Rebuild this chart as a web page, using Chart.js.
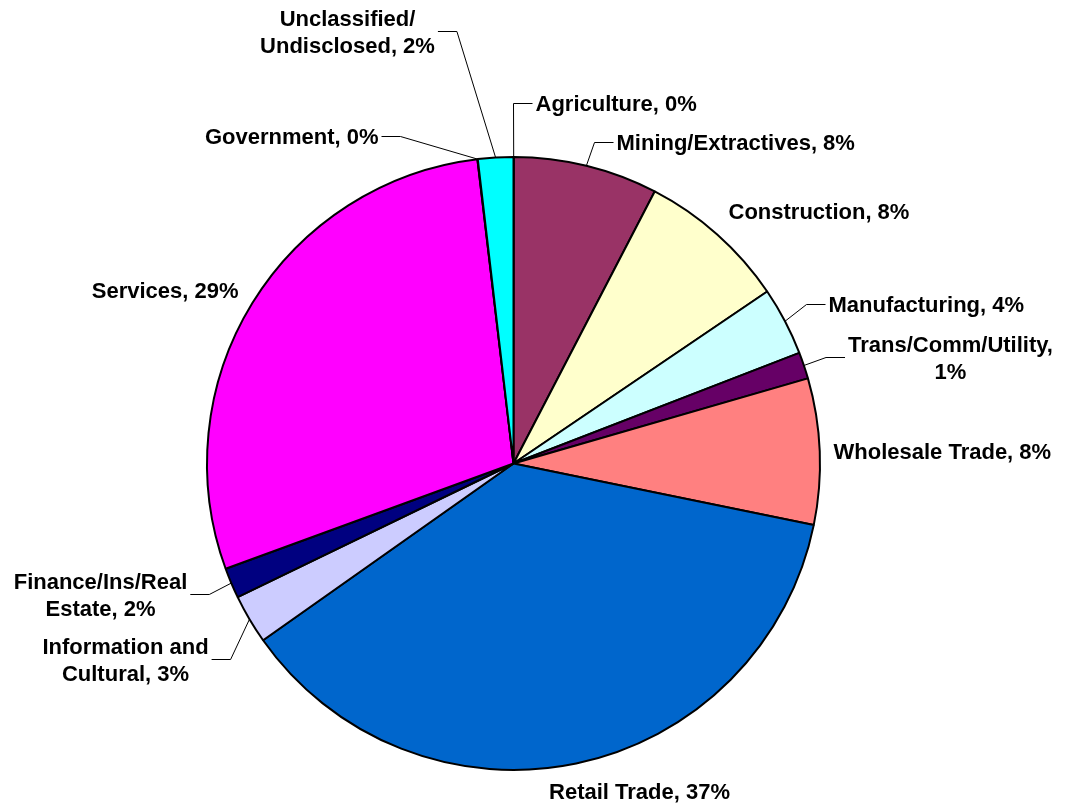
<!DOCTYPE html>
<html>
<head>
<meta charset="utf-8">
<script src="https://cdn.jsdelivr.net/npm/chart.js@4.4.1/dist/chart.umd.min.js"></script>
<style>
  html, body { margin: 0; padding: 0; background: #fff; }
</style>
</head>
<body>
<canvas id="grafico" width="1067" height="808"></canvas>
<script>
const sectores = ["Agriculture", "Mining/Extractives", "Construction", "Manufacturing", "Trans/Comm/Utility", "Wholesale Trade", "Retail Trade", "Information and Cultural", "Finance/Ins/Real Estate", "Services", "Government", "Unclassified/Undisclosed"];
const valores = [0.02, 7.6, 7.9, 3.6, 1.4, 7.7, 37.0, 2.6, 1.6, 28.7, 0.02, 1.86];
const colores = ["#9999FF", "#993366", "#FFFFCC", "#CCFFFF", "#660066", "#FF8080", "#0066CC", "#CCCCFF", "#000080", "#FF00FF", "#FFFF00", "#00FFFF"];

// where each label sits, measured from the pie centre
const etiquetas = [
  { dx: 22, dy: -360, align: "left", leader: true },
  { dx: 103, dy: -321, align: "left", leader: true },
  { dx: 215, dy: -252, align: "left" },
  { dx: 315, dy: -159, align: "left", leader: true },
  { dx: 437, dy: -106, align: "center", wrap: 215, leader: true },
  { dx: 320, dy: -12, align: "left" },
  { dx: 126, dy: 328, align: "center" },
  { dx: -388, dy: 196, align: "center", wrap: 180, leader: true },
  { dx: -413, dy: 131, align: "center", wrap: 180, leader: true },
  { dx: -275, dy: -173, align: "right" },
  { dx: -135, dy: -327, align: "right", leader: true },
  { dx: -166, dy: -432, align: "center", wrap: 180, leader: true },
];

const TAM = 22;
const LINEA = 27;
const FUENTE = `bold ${TAM}px 'Liberation Sans', Arial, sans-serif`;

// break a label after spaces or slashes so it fits in max px
const partir = (ctx, texto, max) => {
  const trozos = texto.match(/[^ \/]+[\/ ]?|[\/ ]/g);
  const lineas = [];
  let actual = "";
  trozos.forEach((t) => {
    const prueba = actual + t;
    if (actual && ctx.measureText(prueba.trim()).width > max) {
      lineas.push(actual.trim());
      actual = t;
    } else {
      actual = prueba;
    }
  });
  if (actual.trim()) lineas.push(actual.trim());
  return lineas;
};

const etiquetasPlugin = {
  id: "etiquetas",
  afterDatasetsDraw(chart) {
    const ctx = chart.ctx;
    const arcos = chart.getDatasetMeta(0).data;
    const total = valores.reduce((a, b) => a + b, 0);
    ctx.save();
    ctx.font = FUENTE;
    ctx.fillStyle = "#000";
    ctx.strokeStyle = "#000";
    ctx.lineWidth = 1;
    ctx.textBaseline = "alphabetic";
    arcos.forEach((arco, i) => {
      const p = arco.getProps(["x", "y", "startAngle", "endAngle", "outerRadius"], true);
      const pos = etiquetas[i];
      const texto = `${sectores[i]}, ${Math.round((valores[i] / total) * 100)}%`;
      const lineas = pos.wrap ? partir(ctx, texto, pos.wrap) : [texto];
      const anchos = lineas.map((l) => ctx.measureText(l).width);
      const ancho = Math.max(...anchos);
      const ax = p.x + pos.dx;
      const ay = p.y + pos.dy;
      let izq = ax - ancho / 2;
      if (pos.align === "left") izq = ax;
      if (pos.align === "right") izq = ax - ancho;
      const alto = (lineas.length - 1) * LINEA;

      lineas.forEach((l, k) => {
        const y = ay - alto / 2 + k * LINEA + TAM * 0.36;
        let x = izq + (ancho - anchos[k]) / 2;
        if (pos.align === "left") x = izq;
        if (pos.align === "right") x = izq + ancho - anchos[k];
        ctx.fillText(l, x, y);
      });

      if (pos.leader) {
        const medio = (p.startAngle + p.endAngle) / 2;
        const px = p.x + Math.cos(medio) * p.outerRadius;
        const py = p.y + Math.sin(medio) * p.outerRadius;
        const derecha = ax > px;
        const fin = derecha ? izq - 3 : izq + ancho + 3;
        const codo = derecha ? fin - 19 : fin + 19;
        ctx.beginPath();
        ctx.moveTo(px, py);
        ctx.lineTo(codo, ay);
        ctx.lineTo(fin, ay);
        ctx.stroke();
      }
    });
    ctx.restore();
  },
};

const canvas = document.getElementById("grafico");
const miTabla = new Chart(canvas.getContext("2d"), {
  type: "pie",
  data: {
    labels: sectores,
    datasets: [
      {
        data: valores,
        backgroundColor: colores,
        borderColor: "#000",
        borderWidth: 2,
      },
    ],
  },
  options: {
    responsive: false,
    animation: false,
    events: [],
    layout: { padding: { left: 206, right: 246, top: 156, bottom: 37 } },
    plugins: {
      legend: { display: false },
      tooltip: { enabled: false },
    },
  },
  plugins: [etiquetasPlugin],
});
</script>
</body>
</html>
